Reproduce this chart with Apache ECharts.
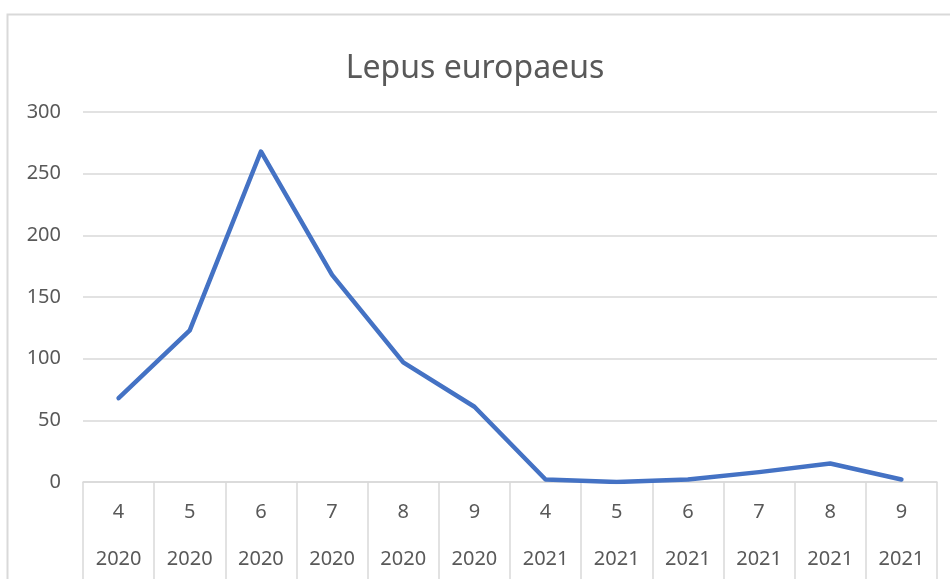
<!DOCTYPE html>
<html>
<head>
    <meta charset="utf-8">
    <title>Lepus europaeus</title>
    <script src="https://cdn.jsdelivr.net/npm/echarts@6/dist/echarts.min.js"></script>
    <style>
        html, body { margin: 0; padding: 0; background: #fff; }
        #chart { width: 950px; height: 579px; }
    </style>
</head>
<body>
    <div id="chart"></div>
    <script type="text/javascript">
        // data
        var months = ['4', '5', '6', '7', '8', '9', '4', '5', '6', '7', '8', '9'];
        var years = ['2020', '2020', '2020', '2020', '2020', '2020', '2021', '2021', '2021', '2021', '2021', '2021'];
        var counts = [68, 123, 268, 168, 97, 61, 2, 0, 2, 8, 15, 2];

        var textColor = '#595959';
        var lineGray = '#d9d9d9';
        var font = 'Noto Sans';

        var myChart = echarts.init(document.getElementById('chart'));
        var option = {
            animation: false,
            title: {
                text: 'Lepus europaeus',
                left: 'center',
                top: 48,
                textStyle: { fontFamily: font, fontSize: 32, fontWeight: 'normal', color: textColor }
            },
            graphic: [
                {
                    type: 'rect',
                    shape: { x: 7.5, y: 14.5, width: 960, height: 620 },
                    style: { fill: 'none', stroke: lineGray, lineWidth: 2 },
                    silent: true
                }
            ],
            grid: { left: 83, right: 13, top: 112, bottom: 97 },
            xAxis: [
                {
                    type: 'category',
                    data: months,
                    boundaryGap: true,
                    axisLine: { show: true, lineStyle: { color: lineGray, width: 1.5 } },
                    axisTick: { show: true, length: 97, lineStyle: { color: lineGray, width: 1.5 } },
                    axisLabel: { margin: 20, fontFamily: font, fontSize: 20, color: textColor },
                    splitLine: { show: false }
                },
                {
                    type: 'category',
                    data: years,
                    position: 'bottom',
                    boundaryGap: true,
                    axisLine: { show: false },
                    axisTick: { show: false },
                    axisLabel: { margin: 67, fontFamily: font, fontSize: 20, color: textColor },
                    splitLine: { show: false }
                }
            ],
            yAxis: {
                type: 'value',
                min: 0,
                max: 300,
                interval: 50,
                axisLine: { show: false },
                axisTick: { show: false },
                axisLabel: { margin: 22, fontFamily: font, fontSize: 20, color: textColor },
                splitLine: { lineStyle: { color: lineGray, width: 1.5 } }
            },
            series: [
                {
                    name: 'Lepus europaeus',
                    type: 'line',
                    data: counts,
                    showSymbol: false,
                    symbol: 'none',
                    lineStyle: { color: '#4472c4', width: 4.5, cap: 'round', join: 'round' }
                }
            ]
        };

        myChart.setOption(option);
    </script>
</body>
</html>
